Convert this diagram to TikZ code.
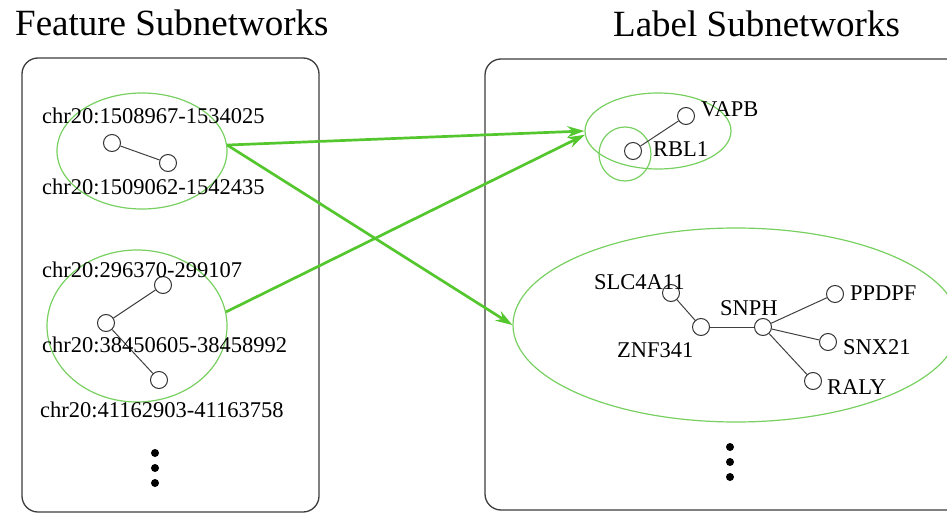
\documentclass[tikz,border=0pt]{standalone}
\usepackage{fontspec}
\setmainfont{Liberation Serif}
\usetikzlibrary{shapes.geometric,arrows.meta}
\definecolor{ellg}{RGB}{120,208,96}
\definecolor{arrg}{RGB}{84,198,46}
\definecolor{boxc}{RGB}{60,60,60}
\begin{document}
\begin{tikzpicture}[x=1pt,y=-1pt,
  gnode/.style={circle,draw=black!80,fill=white,line width=1pt,minimum size=17pt,inner sep=0pt},
  gedge/.style={draw=black!75,line width=1pt},
  grp/.style={ellipse,draw=ellg,line width=1.2pt,inner sep=0pt},
  lbl/.style={anchor=base west,inner sep=0pt,font=\fontsize{22.5}{24}\selectfont},
  ttl/.style={anchor=base west,inner sep=0pt,font=\fontsize{37}{40}\selectfont},
  pane/.style={draw=boxc,line width=1.3pt,rounded corners=16pt},
  link/.style={draw=arrg,line width=2.7pt,-{Stealth[length=17pt,width=11pt]}},
  vdot/.style={circle,fill=black,inner sep=0pt,minimum size=8pt}]
\useasboundingbox (0,0) rectangle (947,513);
\clip (0,0) rectangle (947,513);
% titles
\node[ttl] (t1) at (15,36) {Feature Subnetworks};
\node[ttl] (t2) at (613,37) {Label Subnetworks};
% panes
\draw[pane] (22,58) rectangle (319,512);
\draw[pane] (485,59) rectangle (975,510);
% group ellipses
\node[grp,minimum width=170pt,minimum height=116pt] (e1) at (142,151) {};
\node[grp,minimum width=180pt,minimum height=152pt] (e2) at (137,326) {};
\node[grp,minimum width=146pt,minimum height=76pt] (eA) at (658,131) {};
\node[grp,minimum width=52pt,minimum height=54pt] (eB) at (625,154) {};
\node[grp,minimum width=446pt,minimum height=194pt] (eC) at (736,325) {};
% left graph nodes
\node[gnode] (n1) at (112,143) {};
\node[gnode] (n2) at (168,163) {};
\node[gnode] (m1) at (163,285) {};
\node[gnode] (m2) at (106,323) {};
\node[gnode] (m3) at (159,380) {};
% right graph nodes
\node[gnode] (vapb) at (686,116) {};
\node[gnode] (rbl) at (633,151) {};
\node[gnode] (slc) at (671,293) {};
\node[gnode] (znf) at (701,327) {};
\node[gnode] (snph) at (763,327) {};
\node[gnode] (ppd) at (835,294) {};
\node[gnode] (snx) at (828,342) {};
\node[gnode] (raly) at (813,381) {};
% edges
\draw[gedge] (n1) -- (n2);
\draw[gedge] (m1) -- (m2);
\draw[gedge] (m2) -- (m3);
\draw[gedge] (vapb) -- (rbl);
\draw[gedge] (slc) -- (znf);
\draw[gedge] (znf) -- (snph);
\draw[gedge] (snph) -- (ppd);
\draw[gedge] (snph) -- (snx);
\draw[gedge] (snph) -- (raly);
% labels
\node[lbl] (l1) at (42,123.5) {chr20:1508967-1534025};
\node[lbl] (l2) at (42,194.5) {chr20:1509062-1542435};
\node[lbl] (l3) at (42,277.5) {chr20:296370-299107};
\node[lbl] (l4) at (42,352.5) {chr20:38450605-38458992};
\node[lbl] (l5) at (40,417.5) {chr20:41162903-41163758};
\node[lbl] (lv) at (701,117) {VAPB};
\node[lbl] (lr) at (653,157) {RBL1};
\node[lbl] (ls) at (594,289) {SLC4A11};
\node[lbl] (lz) at (617,357) {ZNF341};
\node[lbl] (lsn) at (720,315) {SNPH};
\node[lbl] (lp) at (850,300) {PPDPF};
\node[lbl] (lx) at (843,354) {SNX21};
\node[lbl] (lra) at (827,394) {RALY};
% dots
\node[vdot] (d1) at (155,453) {};
\node[vdot] (d2) at (155,468) {};
\node[vdot] (d3) at (155,483) {};
\node[vdot] (d4) at (730,447) {};
\node[vdot] (d5) at (730,462) {};
\node[vdot] (d6) at (730,477) {};
% mapping arrows
\draw[link] (e1.4) -- (eA.west);
\draw[link] (e1.4) -- (eC.west);
\draw[link] (e2.9) -- (eA.183);
\end{tikzpicture}
\end{document}
